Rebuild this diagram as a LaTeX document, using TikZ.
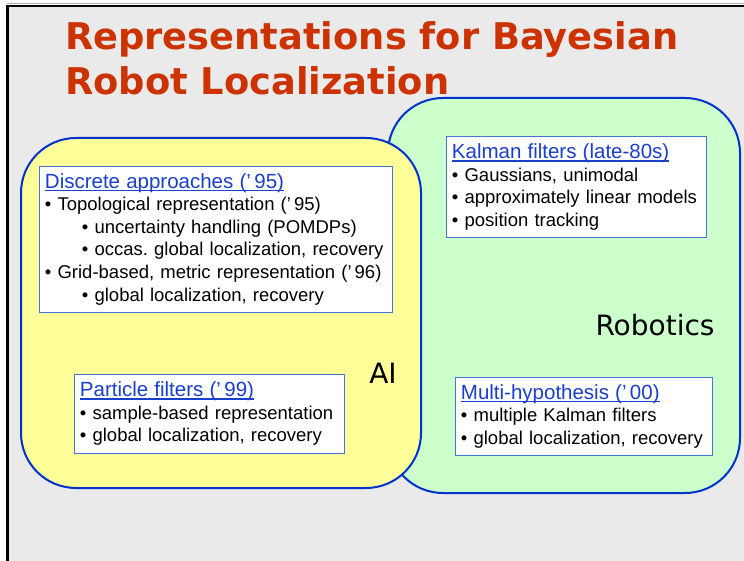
\documentclass[tikz,border=0pt]{standalone}
\usepackage{fontspec}
\setmainfont{Liberation Sans}
\newfontfamily\verdana{DejaVu Sans}
\usetikzlibrary{positioning}

\definecolor{slidegray}{HTML}{EAEAEA}
\definecolor{titlered}{HTML}{CC3300}
\definecolor{aiyellow}{HTML}{FFFF99}
\definecolor{robgreen}{HTML}{CCFFCC}
\definecolor{edgeblue}{HTML}{0033CC}
\definecolor{boxblue}{HTML}{4A70DA}
\definecolor{linkblue}{HTML}{1A3FCC}

% underlined heading, like a link
\newcommand{\linkhead}[1]{\sbox0{\fontsize{20.5}{22.5}\selectfont\color{linkblue}#1}\rlap{\color{linkblue}\rule[-3pt]{\wd0}{1.5pt}}\usebox0}
\newcommand{\bul}{•\ }
\newcommand{\subitm}{\hspace*{37pt}•\ }

\tikzstyle{region}=[draw=edgeblue, line width=2pt, rounded corners=55pt, inner sep=0pt, anchor=north west]
\tikzstyle{infobox}=[draw=boxblue, line width=0.9pt, fill=white, anchor=north west, align=left, inner xsep=5.5pt, inner ysep=0pt, font=\fontsize{18.5}{22.5}\selectfont\frenchspacing]

\begin{document}
\begin{tikzpicture}[x=1pt,y=-1pt]
		\useasboundingbox (0,0) rectangle (744,561);
		
		% slide background and frame
		\fill[white] (0,0) rectangle (744,561);
		\fill[slidegray] (7,5) rectangle (744,561);
		\draw[gray!60, line width=1pt] (7,4) -- (744,4);
		\draw[line width=2.5pt] (6,6.2) -- (744,6.2);
		\draw[line width=3pt] (7.5,5) -- (7.5,561);
		
		\node[anchor=north west, inner sep=0pt, align=left, text=titlered, font=\verdana\bfseries\fontsize{36.8}{45}\selectfont] (title) at (65,21) {Representations for Bayesian\\Robot Localization};
		
		% the two areas
		\node[region, fill=robgreen, minimum width=352pt, minimum height=395pt] (robarea) at (387,97) {};
		\node[region, fill=aiyellow, minimum width=400pt, minimum height=350pt] (aiarea) at (20,137) {};
		
		\node[font=\verdana\fontsize{28}{30}\selectfont] (ailabel) at (383,373) {AI};
		\node[font=\verdana\fontsize{28}{30}\selectfont] (roblabel) at (655,325) {Robotics};
		
		\node[infobox, text width=342pt, minimum height=146pt] (discrete) at (39,166) {\linkhead{Discrete approaches (’\,95)}\\
			\bul Topological representation (’\,95)\\
			\subitm uncertainty handling (POMDPs)\\
			\subitm occas. global localization, recovery\\
			\bul Grid-based, metric representation (’\,96)\\[1pt]
			\subitm global localization, recovery};
		
		\node[infobox, text width=249pt, minimum height=101pt] (kalman) at (446,136) {\linkhead{Kalman filters (late-80s)}\\
			\bul Gaussians, unimodal\\
			\bul approximately linear models\\
			\bul position tracking};
		
		\node[infobox, text width=259pt, minimum height=79pt] (particle) at (74,374) {\linkhead{Particle filters (’\,99)}\\
			\bul sample-based representation\\
			\bul global localization, recovery};
		
		\node[infobox, text width=246pt, minimum height=78pt] (multi) at (455,377) {\linkhead{Multi-hypothesis (’\,00)}\\
			\bul multiple Kalman filters\\
			\bul global localization, recovery};
		
\end{tikzpicture}
\end{document}
